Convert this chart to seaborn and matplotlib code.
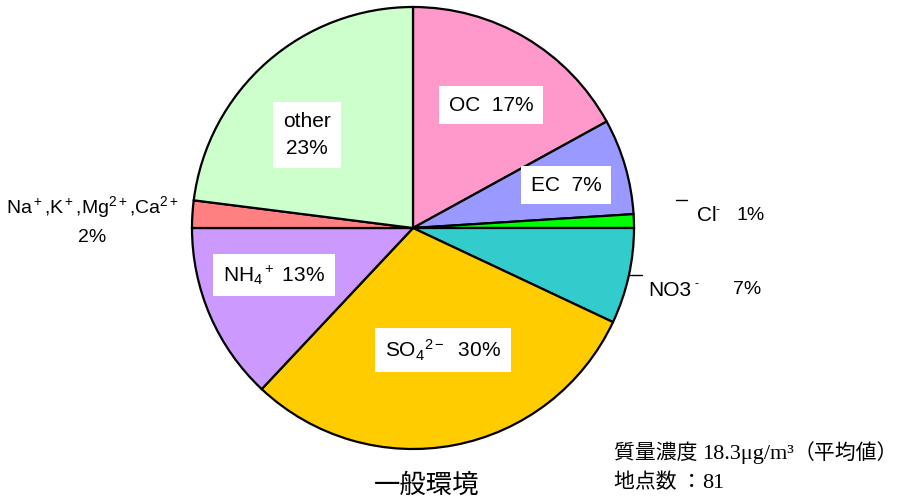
import matplotlib.pyplot as plt
import seaborn as sns

# data
components = ["OC", "EC", "Cl-", "NO3-", "SO4 2-", "NH4+", "Na+,K+,Mg2+,Ca2+", "other"]
shares = [17, 7, 1, 7, 30, 13, 2, 23]
colors = ["#FF99CC", "#9999FF", "#00FF00", "#33CCCC", "#FFCC00", "#CC99FF", "#FF8080", "#CCFFCC"]
labels = ["OC  17%", "EC  7%", "", "", r"SO$_4$$^{2-}$  30%", r"NH$_4$$^+$ 13%", "", "other\n23%"]

sns.set_theme(style="white")
plt.rcParams["font.family"] = ["Liberation Sans", "DejaVu Sans"]
plt.rcParams["text.color"] = "black"
plt.rcParams["mathtext.fontset"] = "custom"
plt.rcParams["mathtext.rm"] = "Liberation Sans"
plt.rcParams["mathtext.it"] = "Liberation Sans:italic"

W, H = 904, 501
fig = plt.figure(figsize=(W / 100, H / 100), dpi=100)
ax = fig.add_axes([0, 0, 1, 1])
ax.set_xlim(0, W)
ax.set_ylim(0, H)
ax.set_aspect("equal")
ax.axis("off")

cx, cy, r = 413, H - 228, 221
ax.pie(shares, colors=colors, startangle=90, counterclock=False, center=(cx, cy), radius=r,
       wedgeprops=dict(edgecolor="black", linewidth=1.6))
ax.set_xlim(0, W)
ax.set_ylim(0, H)

box = dict(facecolor="white", edgecolor="none", pad=7)
inside_pos = {0: (491, 105), 1: (566, 185), 4: (443, 350), 5: (274, 275), 7: (307, 135)}
for i, (x, y) in inside_pos.items():
    ax.text(x, H - y, labels[i], ha="center", va="center", fontsize=15, bbox=box,
            linespacing=1.5)

# outside labels
ax.text(697, H - 215, "Cl", ha="left", va="center", fontsize=15)
ax.text(716, H - 210, "-", ha="left", va="center", fontsize=9)
ax.text(737, H - 215, "1%", ha="left", va="center", fontsize=14)
ax.plot([676, 687], [H - 200, H - 200], color="black", lw=1)

ax.text(648, H - 290, "NO3", ha="left", va="center", fontsize=15)
ax.text(695, H - 284, "-", ha="left", va="center", fontsize=9)
ax.text(733, H - 290, "7%", ha="left", va="center", fontsize=14)
ax.plot([629, 642], [H - 275, H - 275], color="black", lw=1)

ax.text(92, H - 207, r"Na$^+$,K$^+$,Mg$^{2+}$,Ca$^{2+}$", ha="center", va="center", fontsize=14)
ax.text(92, H - 237, "2%", ha="center", va="center", fontsize=14)

# titles
cjk = ["Noto Sans CJK JP", "DejaVu Sans"]
serif = ["Liberation Serif", "DejaVu Serif"]
ax.text(427, H - 485, "一般環境", ha="center", va="center", fontsize=19, family=cjk)

t1 = ax.text(614, H - 459, "質量濃度 ", ha="left", va="baseline", fontsize=15, family=cjk)
t2 = ax.annotate("18.3μg/m³", xy=(1, 0), xycoords=t1, ha="left", va="bottom",
                 fontsize=16, family=serif)
ax.annotate("（平均値）", xy=(1, 0), xycoords=t2, ha="left", va="bottom", fontsize=15, family=cjk)
t3 = ax.text(614, H - 488, "地点数 ：", ha="left", va="baseline", fontsize=15, family=cjk)
ax.annotate("81", xy=(1, 0), xycoords=t3, ha="left", va="bottom", fontsize=16, family=serif)

fig.savefig("out.png", dpi=100, facecolor="white")
